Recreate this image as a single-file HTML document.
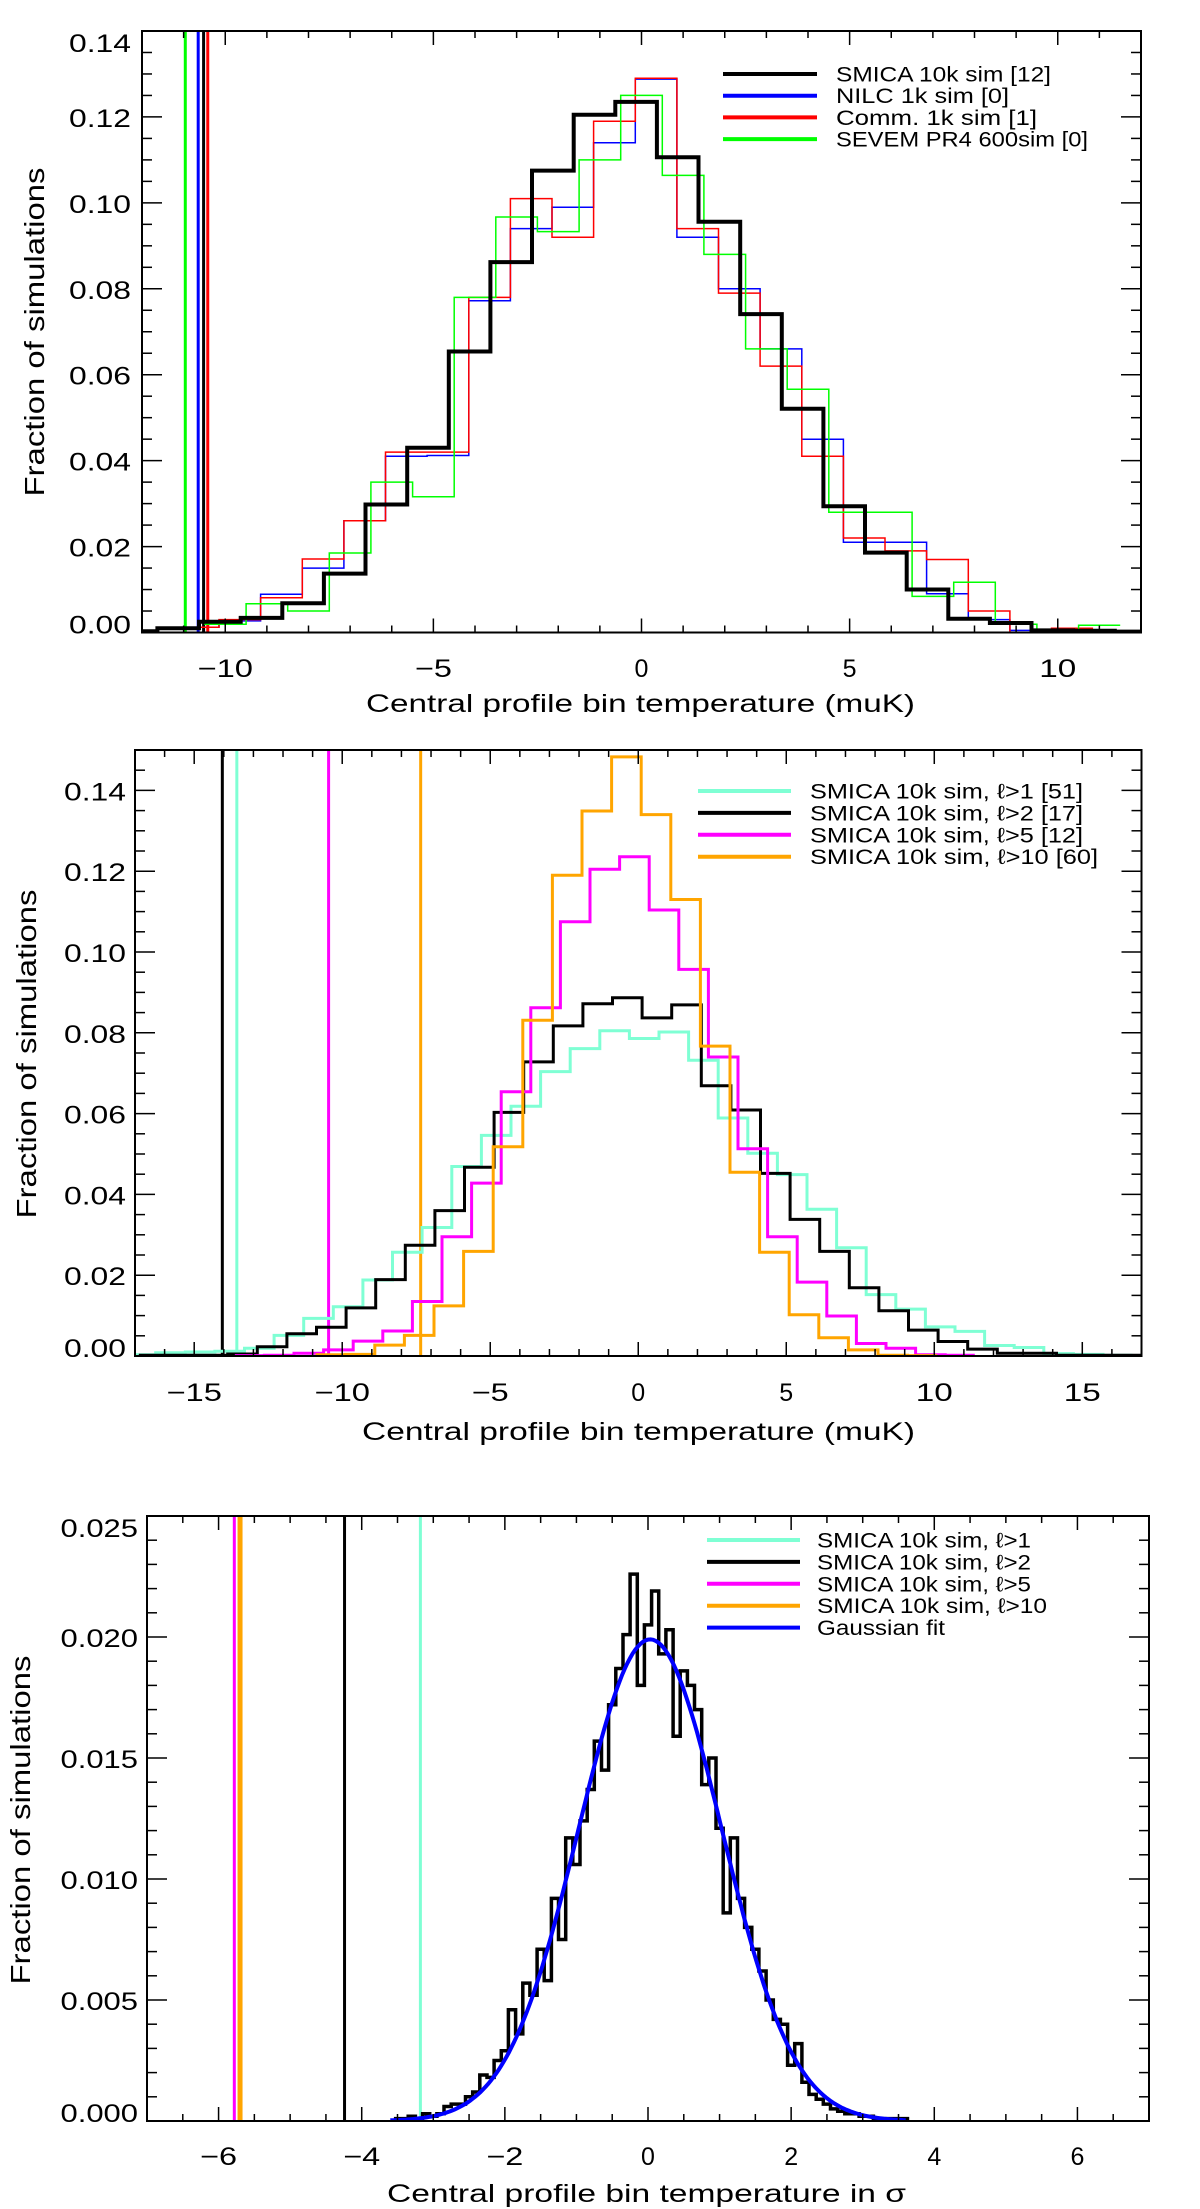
<!DOCTYPE html>
<html><head><meta charset="utf-8"><style>
html,body{margin:0;padding:0;background:#fff;}
svg{display:block;font-family:"Liberation Sans",sans-serif;}
</style></head><body>
<svg id="fig" width="1200" height="2209" viewBox="0 0 1200 2209" xmlns="http://www.w3.org/2000/svg">
<rect x="0" y="0" width="1200" height="2209" fill="#fff"/>
</svg>
<script>
// ===== Panel 1 data =====
const p1BlackStart = -12.13;
const p1BlackVals = [0.0003,0.001,0.0025,0.0034,0.0068,0.0137,0.0298,0.043,0.0654,0.0862,0.1075,0.1205,0.1235,0.1106,0.0956,0.0741,0.0521,0.0294,0.0186,0.010,0.0032,0.0022,0.0005,0.0004,0.0002];
const p1BlueStart = -10.65;
const p1BlueVals = [0.0012,0.0027,0.0089,0.015,0.026,0.041,0.0412,0.0772,0.094,0.099,0.114,0.1288,0.092,0.080,0.066,0.045,0.021,0.021,0.009,0.003,0.0005,0.0003];
const p1RedStart = -10.65;
const p1RedVals = [0.0012,0.003,0.0081,0.0171,0.026,0.042,0.042,0.078,0.101,0.092,0.119,0.129,0.094,0.079,0.062,0.041,0.022,0.019,0.017,0.005,0,0.001];
const p1GreenStart = -10;
const p1GreenVals = [0.0019,0.0067,0.005,0.0185,0.035,0.0316,0.078,0.0967,0.0933,0.110,0.125,0.1064,0.088,0.066,0.0566,0.028,0.028,0.0084,0.0117,0.0019,0,0.0017];
const p1ObsValues = [-10.96,-10.65,-10.52,-10.42];
const p1ObsColors = ['#00ff00','#0000ff','#000000','#ff0000'];
const p1XTicks = [-10,-5,0,5,10];
const p1YTicks = [0,0.02,0.04,0.06,0.08,0.10,0.12,0.14];
const p1YTickLabels = ['0.00','0.02','0.04','0.06','0.08','0.10','0.12','0.14'];
const p1Legend = ['SMICA 10k sim [12]','NILC 1k sim [0]','Comm. 1k sim [1]','SEVEM PR4 600sim [0]'];

// ===== Panel 2 data =====
const p2CyanStart = -16.8;
const p2CyanVals = [0.0003,0.0008,0.001,0.0012,0.0019,0.0051,0.0093,0.0122,0.0188,0.0257,0.0318,0.0469,0.0546,0.0618,0.0704,0.0761,0.0805,0.0786,0.0802,0.0732,0.0589,0.0502,0.0449,0.0363,0.0268,0.0152,0.0116,0.0072,0.0061,0.0026,0.0021,0.0006,0.0004,0.0002];
const p2BlackStart = -16.37;
const p2BlackVals = [0.0002,0.0002,0.0002,0.0005,0.0023,0.0055,0.0071,0.0119,0.0189,0.0274,0.036,0.0467,0.0603,0.0728,0.0817,0.0872,0.0887,0.0837,0.0869,0.0669,0.0609,0.0452,0.0338,0.0259,0.0169,0.0112,0.0064,0.0036,0.0017,0.0007,0.0007,0.0002,0.0002,0.0002];
const p2MagentaStart = -13.13;
const p2MagentaVals = [0.0001,0.0002,0.0007,0.0015,0.0037,0.0062,0.0135,0.0295,0.0428,0.0654,0.0862,0.1075,0.1205,0.1236,0.1104,0.0957,0.074,0.0513,0.0295,0.0183,0.0099,0.0031,0.0019,0.0003,0.0002];
const p2OrangeStart = -10.4;
const p2OrangeVals = [0.0003,0.0004,0.0027,0.0051,0.0124,0.0259,0.0518,0.0831,0.119,0.1349,0.1483,0.134,0.113,0.0767,0.0455,0.0257,0.0102,0.0045,0.0015,0.0002,0.0001];
const p2ObsValues = [-14.05,-13.56,-10.46,-7.35];
const p2ObsColors = ['#000000','#7fffd4','#ff00ff','#ffa500'];
const p2XTicks = [-15,-10,-5,0,5,10,15];
const p2YTicks = [0,0.02,0.04,0.06,0.08,0.10,0.12,0.14];
const p2YTickLabels = ['0.00','0.02','0.04','0.06','0.08','0.10','0.12','0.14'];
const p2Legend = ['SMICA 10k sim, \u2113>1 [51]','SMICA 10k sim, \u2113>2 [17]','SMICA 10k sim, \u2113>5 [12]','SMICA 10k sim, \u2113>10 [60]'];

// ===== Panel 3 data =====
const p3HistStart = -3.5;
const p3HistWidth = 0.1;
const p3HistVals = [0.0001,0.0001,0.0002,0.0001,0.0003,0.0002,0.0003,0.0006,0.0007,0.0007,0.0010,0.0012,0.0019,0.0018,0.0025,0.0029,0.0046,0.0036,0.0057,0.0052,0.0071,0.0058,0.0092,0.0075,0.0117,0.0106,0.0124,0.0137,0.0157,0.0145,0.0172,0.0187,0.0201,0.0226,0.0180,0.0205,0.0219,0.0193,0.0203,0.0159,0.0186,0.0180,0.0170,0.0139,0.0150,0.0121,0.0086,0.0117,0.0092,0.0080,0.0071,0.0062,0.0050,0.0042,0.0040,0.0023,0.0032,0.0016,0.0011,0.0009,0.0007,0.0005,0.0004,0.0003,0.0003,0.0002,0.0002,0.0001,0.0001,0.0001,0.0001,0.0001];
const p3FitAmp = 0.0199;
const p3FitMean = 0.03;
const p3FitSigma = 1.0;
const p3FitRange = [-3.6, 3.6];
const p3ObsValues = [-3.18,-4.24,-5.78,-5.70];
const p3ObsColors = ['#7fffd4','#000000','#ff00ff','#ffa500'];
const p3XTicks = [-6,-4,-2,0,2,4,6];
const p3YTicks = [0,0.005,0.010,0.015,0.020,0.025];
const p3YTickLabels = ['0.000','0.005','0.010','0.015','0.020','0.025'];
const p3Legend = ['SMICA 10k sim, \u2113>1','SMICA 10k sim, \u2113>2','SMICA 10k sim, \u2113>5','SMICA 10k sim, \u2113>10','Gaussian fit'];

const NS = 'http://www.w3.org/2000/svg';
const svg = document.getElementById('fig');
function mk(tag, attrs, parent){
  const e = document.createElementNS(NS, tag);
  for (const k in attrs) e.setAttribute(k, attrs[k]);
  (parent || svg).appendChild(e);
  return e;
}
function makeAxes(L,R,T,B,xmin,xmax,ymin,ymax){
  return {x: v => L + (v - xmin) / (xmax - xmin) * (R - L),
          y: v => B - (v - ymin) / (ymax - ymin) * (B - T)};
}
function stepPath(ax, start, width, vals){
  let d = '';
  vals.forEach((v, i) => {
    const x0 = ax.x(start + i * width - width / 2), x1 = ax.x(start + i * width + width / 2), y = ax.y(v);
    d += (i === 0 ? 'M' : 'L') + x0.toFixed(1) + ',' + y.toFixed(1) + 'L' + x1.toFixed(1) + ',' + y.toFixed(1);
  });
  return d;
}
function drawPanel(cfg){
  const g = mk('g', {});
  
  
  const ax = makeAxes(cfg.L, cfg.R, cfg.T, cfg.B, cfg.xmin, cfg.xmax, cfg.ymin, cfg.ymax);
  const clipId = cfg.name + '-clip';
  const cp = mk('clipPath', {id: clipId}, g);
  mk('rect', {x: cfg.L, y: cfg.T, width: cfg.R - cfg.L, height: cfg.B - cfg.T}, cp);
  const plot = mk('g', {'clip-path': 'url(#' + clipId + ')'}, g);
  
  
  cfg.obs.forEach((v, i) => {
    const l = mk('line', {x1: ax.x(v), x2: ax.x(v), y1: cfg.T, y2: cfg.B, stroke: cfg.obsColors[i], 'stroke-width': cfg.obsW[i]}, plot);
    
    
  });
  cfg.series.forEach(s => {
    const p = mk('path', {d: stepPath(ax, s.start, s.width, s.vals), fill: 'none', stroke: s.color, 'stroke-width': s.w, 'stroke-linejoin': 'miter', 'stroke-linecap': 'butt'}, plot);
    
    
  });
  if (cfg.fit) {
    let d = '';
    const n = 200;
    for (let i = 0; i <= n; i++) {
      const xv = cfg.fit.range[0] + (cfg.fit.range[1] - cfg.fit.range[0]) * i / n;
      const yv = cfg.fit.amp * Math.exp(-Math.pow(xv - cfg.fit.mean, 2) / (2 * cfg.fit.sigma * cfg.fit.sigma));
      d += (i ? 'L' : 'M') + ax.x(xv).toFixed(1) + ',' + ax.y(yv).toFixed(1);
    }
    const p = mk('path', {d: d, fill: 'none', stroke: '#0000ff', 'stroke-width': 4}, plot);
    
    
  }
  const fr = mk('rect', {x: cfg.L, y: cfg.T, width: cfg.R - cfg.L, height: cfg.B - cfg.T, fill: 'none', stroke: '#000', 'stroke-width': 2}, g);
  
  
  const tk = mk('g', {stroke: '#000', 'stroke-width': 1.5}, g);
  
  
  for (let v = Math.ceil(cfg.xmin / cfg.xminor) * cfg.xminor; v <= cfg.xmax + 1e-9; v += cfg.xminor) {
    const isMaj = cfg.xTicks.some(t => Math.abs(t - v) < 1e-6);
    const len = isMaj ? 14 : 7, X = ax.x(v);
    mk('line', {x1: X, x2: X, y1: cfg.B, y2: cfg.B - len}, tk);
    mk('line', {x1: X, x2: X, y1: cfg.T, y2: cfg.T + len}, tk);
  }
  for (let v = cfg.ymin; v <= cfg.ymax + 1e-9; v += cfg.yminor) {
    const isMaj = cfg.yTicks.some(t => Math.abs(t - v) < 1e-7);
    const len = isMaj ? 20 : 10, Y = ax.y(v);
    mk('line', {x1: cfg.L, x2: cfg.L + len, y1: Y, y2: Y}, tk);
    mk('line', {x1: cfg.R, x2: cfg.R - len, y1: Y, y2: Y}, tk);
  }
  cfg.xTicks.forEach(v => {
    const s = v < 0 ? '\u2212' + Math.abs(v) : String(v);
    const t = mk('text', {x: ax.x(v), y: cfg.xLabelY, 'text-anchor': 'middle', 'font-size': 25, fill: '#000'}, g);
    if (s.length > 1) { t.setAttribute('textLength', 18.5 * s.length); t.setAttribute('lengthAdjust', 'spacingAndGlyphs'); }
    t.textContent = s;
    
    
  });
  cfg.yTicks.forEach((v, i) => {
    let by = ax.y(v) + 10;
    by = Math.max(by, cfg.T + 21); by = Math.min(by, cfg.B + 1);
    const s = cfg.yTickLabels[i];
    const t = mk('text', {x: cfg.yLabelRight, y: by, 'text-anchor': 'end', 'font-size': 25, fill: '#000', textLength: 15.5 * s.length, lengthAdjust: 'spacingAndGlyphs'}, g);
    t.textContent = s;
    
    
  });
  const xt = mk('text', {x: cfg.xTitle[0], y: cfg.xTitle[1], 'font-size': 25, fill: '#000', textLength: cfg.xTitle[2], lengthAdjust: 'spacingAndGlyphs'}, g);
  xt.textContent = cfg.xTitleText;
  
  
  const yt = mk('text', {x: 0, y: 0, 'font-size': 28, fill: '#000', 'text-anchor': 'middle', textLength: 329, lengthAdjust: 'spacingAndGlyphs', transform: 'translate(' + cfg.yTitle[0] + ',' + cfg.yTitle[1] + ') rotate(-90)'}, g);
  yt.textContent = 'Fraction of simulations';
  
  
  const lg = mk('g', {}, g);
  
  
  cfg.legend.forEach((txt, i) => {
    const y = cfg.legRows[0] + i * cfg.legRows[1];
    const e = mk('g', {}, lg);
    
    
    mk('line', {x1: cfg.legX[0], x2: cfg.legX[1], y1: y, y2: y, stroke: cfg.legColors[i], 'stroke-width': 4}, e);
    const t = mk('text', {x: cfg.legX[2], y: y + 7.5, 'font-size': 21, fill: '#000', textLength: cfg.legW[i], lengthAdjust: 'spacingAndGlyphs'}, e);
    t.textContent = txt;
  });
}

drawPanel({name: 'panel-top', L: 142, R: 1141, T: 31, B: 632.5, xmin: -12, xmax: 12, ymin: 0, ymax: 0.14,
  xminor: 1, yminor: 0.005, xTicks: p1XTicks, yTicks: p1YTicks, yTickLabels: p1YTickLabels,
  obs: p1ObsValues, obsColors: p1ObsColors, obsW: [3, 3, 3, 3],
  series: [
    {name: 'nilc-histogram', start: p1BlueStart, width: 1, vals: p1BlueVals, color: '#0000ff', w: 1.5},
    {name: 'commander-histogram', start: p1RedStart, width: 1, vals: p1RedVals, color: '#ff0000', w: 1.5},
    {name: 'sevem-histogram', start: p1GreenStart, width: 1, vals: p1GreenVals, color: '#00ff00', w: 1.5},
    {name: 'smica-histogram', start: p1BlackStart, width: 1, vals: p1BlackVals, color: '#000000', w: 4}],
  xLabelY: 677, yLabelRight: 131, xTitle: [366, 712, 549], xTitleText: 'Central profile bin temperature (muK)', yTitle: [44, 332],
  legend: p1Legend, legColors: ['#000', '#0000ff', '#ff0000', '#00ff00'], legX: [723, 817, 836], legRows: [74, 21.7], legW: [215, 173, 201, 252]});

drawPanel({name: 'panel-middle', L: 135, R: 1141.5, T: 750, B: 1356, xmin: -17, xmax: 17, ymin: 0, ymax: 0.15,
  xminor: 1, yminor: 0.005, xTicks: p2XTicks, yTicks: p2YTicks, yTickLabels: p2YTickLabels,
  obs: p2ObsValues, obsColors: p2ObsColors, obsW: [3, 3, 3, 3],
  series: [
    {name: 'lmin1-histogram', start: p2CyanStart, width: 1, vals: p2CyanVals, color: '#7fffd4', w: 3},
    {name: 'lmin2-histogram', start: p2BlackStart, width: 1, vals: p2BlackVals, color: '#000000', w: 3},
    {name: 'lmin5-histogram', start: p2MagentaStart, width: 1, vals: p2MagentaVals, color: '#ff00ff', w: 3},
    {name: 'lmin10-histogram', start: p2OrangeStart, width: 1, vals: p2OrangeVals, color: '#ffa500', w: 3}],
  xLabelY: 1401, yLabelRight: 126, xTitle: [362, 1440, 553], xTitleText: 'Central profile bin temperature (muK)', yTitle: [36, 1054],
  legend: p2Legend, legColors: ['#7fffd4', '#000', '#ff00ff', '#ffa500'], legX: [698, 791, 810], legRows: [791, 21.9], legW: [273, 273, 273, 288]});

drawPanel({name: 'panel-bottom', L: 147, R: 1149, T: 1516, B: 2121, xmin: -7, xmax: 7, ymin: 0, ymax: 0.025,
  xminor: 0.5, yminor: 0.001, xTicks: p3XTicks, yTicks: p3YTicks, yTickLabels: p3YTickLabels,
  obs: p3ObsValues, obsColors: p3ObsColors, obsW: [3, 3, 3, 5],
  series: [
    {name: 'normalized-histogram', start: p3HistStart, width: p3HistWidth, vals: p3HistVals, color: '#000000', w: 3.5}],
  fit: {amp: p3FitAmp, mean: p3FitMean, sigma: p3FitSigma, range: p3FitRange},
  xLabelY: 2165, yLabelRight: 138, xTitle: [387, 2202, 519], xTitleText: 'Central profile bin temperature in \u03c3', yTitle: [30, 1820],
  legend: p3Legend, legColors: ['#7fffd4', '#000', '#ff00ff', '#ffa500', '#0000ff'], legX: [707, 800, 817], legRows: [1540, 21.9], legW: [214, 214, 214, 230, 128]});
</script>
</body></html>
